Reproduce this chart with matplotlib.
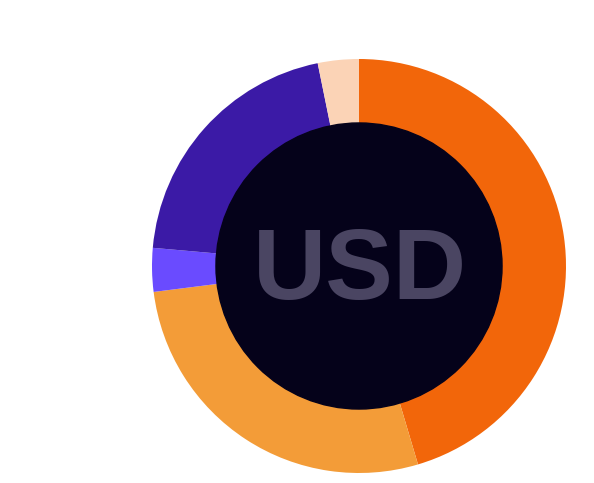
import matplotlib
matplotlib.use("Agg")
import matplotlib.pyplot as plt
from matplotlib.patches import Circle

labels = ["A", "B", "C", "D", "E"]
values = [45.4, 27.6, 3.4, 20.4, 3.2]
colors = ["#F2660A", "#F39C38", "#6A4BFF", "#3B1AA6", "#FBD3B6"]
center_text = "USD"

fig = plt.figure(figsize=(5.94, 4.83), dpi=100)
ax = fig.add_axes([152/594, 10/483, 414/594, 414/483])
ax.pie(values, colors=colors, startangle=90, counterclock=False, radius=1,
       wedgeprops=dict(width=1 - 142/207, linewidth=0))
ax.add_patch(Circle((0, 0), 142/207 + 0.005, color="#05021A", zorder=3))
ax.text(1/207, -33/207, center_text, ha="center", va="baseline", fontsize=73,
        fontweight="bold", family="Liberation Sans", color="#4A4562", zorder=4)
ax.set_xlim(-1, 1)
ax.set_ylim(-1, 1)
ax.set_aspect("equal")
ax.axis("off")
fig.savefig("out.png", dpi=100)
